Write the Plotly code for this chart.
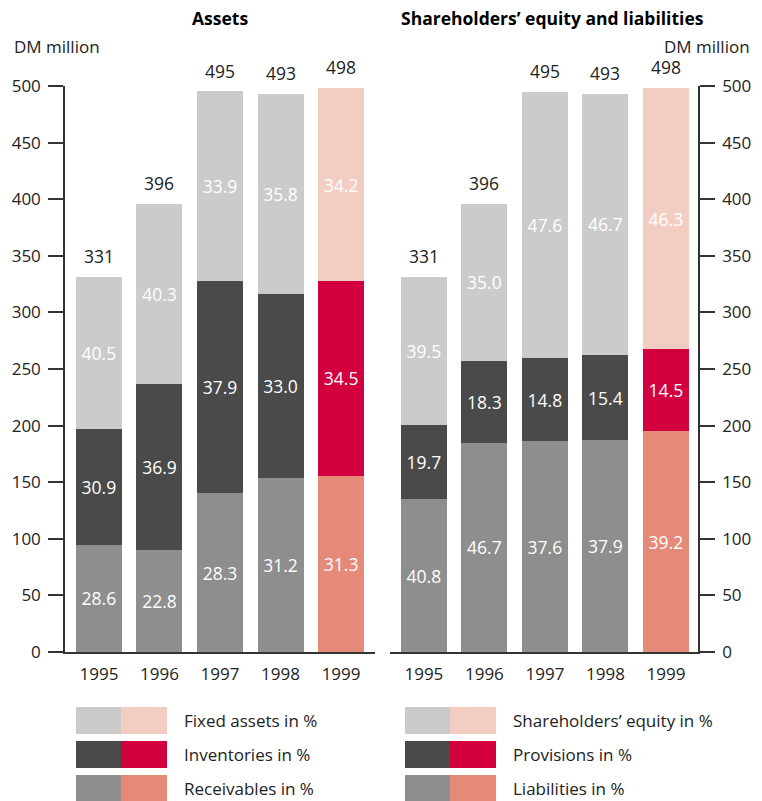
import plotly.graph_objects as go

W, H = 762, 801

years = ["1995", "1996", "1997", "1998", "1999"]

# DM million totals (identical on both sides of the balance sheet)
totals = [331, 396, 495, 493, 498]

# Assets structure in %
fixed_assets_pct = [40.5, 40.3, 33.9, 35.8, 34.2]
inventories_pct = [30.9, 36.9, 37.9, 33.0, 34.5]
receivables_pct = [28.6, 22.8, 28.3, 31.2, 31.3]

# Shareholders' equity and liabilities structure in %
equity_pct = [39.5, 35.0, 47.6, 46.7, 46.3]
provisions_pct = [19.7, 18.3, 14.8, 15.4, 14.5]
liabilities_pct = [40.8, 46.7, 37.6, 37.9, 39.2]

# colour pairs: earlier years / current year
LIGHT = ("#cbcbcb", "#f3cdc1")
DARK = ("#4a4a4a", "#d2003f")
MID = ("#8e8e8e", "#e58a79")

FONT = "Open Sans"
TXT = "#222222"
AX = "#333333"


def px_x(p):
    return p / W


def px_y(p):
    return (H - p) / H


def colours(pair):
    return [pair[0]] * (len(years) - 1) + [pair[1]]


fig = go.Figure()

panels = [
    ("x", "y", [(receivables_pct, MID), (inventories_pct, DARK), (fixed_assets_pct, LIGHT)]),
    ("x2", "y2", [(liabilities_pct, MID), (provisions_pct, DARK), (equity_pct, LIGHT)]),
]

for xa, ya, segs in panels:
    for pct, pair in segs:
        fig.add_trace(go.Bar(
            x=years,
            y=[t * p / 100 for t, p in zip(totals, pct)],
            xaxis=xa, yaxis=ya,
            marker=dict(color=colours(pair), line=dict(width=0)),
            text=[f"{p:.1f}" for p in pct],
            textposition="inside",
            insidetextanchor="middle",
            textangle=0,
            textfont=dict(family=FONT, size=17.5, color="white"),
            hoverinfo="skip",
            showlegend=False,
        ))
    # total on top of each bar (category index on the x axis)
    for i, t in enumerate(totals):
        fig.add_annotation(
            x=i, y=t, xref=xa, yref=ya, text=str(t), showarrow=False,
            xanchor="center", yanchor="middle", yshift=21,
            font=dict(family=FONT, size=17.5, color=TXT),
        )

xaxis_common = dict(
    type="category", range=[-0.56, 4.56], showline=True, linecolor=AX, linewidth=1.5,
    ticks="", showgrid=False, zeroline=False, ticklabelstandoff=6, automargin=False,
    tickfont=dict(family=FONT, size=17, color=TXT),
)
yaxis_common = dict(
    range=[0, 500], tickvals=list(range(0, 501, 50)), showline=True, linecolor=AX,
    linewidth=1.5, ticks="outside", ticklen=15, tickwidth=1.5, tickcolor=AX,
    showgrid=False, zeroline=False, ticklabelstandoff=4, automargin=False,
    tickfont=dict(family=FONT, size=17, color=TXT),
    domain=[px_y(652), px_y(86)],
)

fig.update_layout(
    width=W, height=H,
    margin=dict(l=0, r=0, t=0, b=0, pad=0, autoexpand=False),
    paper_bgcolor="white", plot_bgcolor="white",
    barmode="stack", bargap=0.24,
    uniformtext=dict(minsize=17, mode="show"),
    xaxis=dict(domain=[px_x(65), px_x(375)], anchor="y", **xaxis_common),
    xaxis2=dict(domain=[px_x(390), px_x(698)], anchor="y2",
                **{**xaxis_common, "range": [-0.56, 4.53]}),
    yaxis=dict(anchor="x", side="left", **yaxis_common),
    yaxis2=dict(anchor="x2", side="right", **yaxis_common),
)


def label(x, y, text, size=17, anchor="center", color=TXT):
    fig.add_annotation(x=px_x(x), y=px_y(y), xref="paper", yref="paper", text=text,
                       xanchor=anchor, yanchor="middle", showarrow=False,
                       font=dict(family=FONT, size=size, color=color))


# panel titles and unit labels
label(220, 18, "<b>Assets</b>", size=17.5, color="black")
label(552, 18, "<b>Shareholders’ equity and liabilities</b>", size=17.5, color="black")
label(12, 46, "DM million", anchor="left")
label(752, 46, "DM million", anchor="right")

# legend rows: two swatches (earlier years, 1999) and a caption
legend_rows = [
    ("Fixed assets in %", "Shareholders’ equity in %", LIGHT),
    ("Inventories in %", "Provisions in %", DARK),
    ("Receivables in %", "Liabilities in %", MID),
]
row_tops = [707, 741, 775]
for (left_lbl, right_lbl, pair), top in zip(legend_rows, row_tops):
    bottom = top + 27
    for x0, lbl_x, lbl in ((76, 182, left_lbl), (405, 511, right_lbl)):
        fig.add_shape(type="rect", xref="paper", yref="paper",
                      x0=px_x(x0), x1=px_x(x0 + 45), y0=px_y(bottom), y1=px_y(top),
                      fillcolor=pair[0], line=dict(width=0))
        fig.add_shape(type="rect", xref="paper", yref="paper",
                      x0=px_x(x0 + 45), x1=px_x(x0 + 91), y0=px_y(bottom), y1=px_y(top),
                      fillcolor=pair[1], line=dict(width=0))
        label(lbl_x, (top + bottom) / 2, lbl, anchor="left")

fig.write_html("out.html")
